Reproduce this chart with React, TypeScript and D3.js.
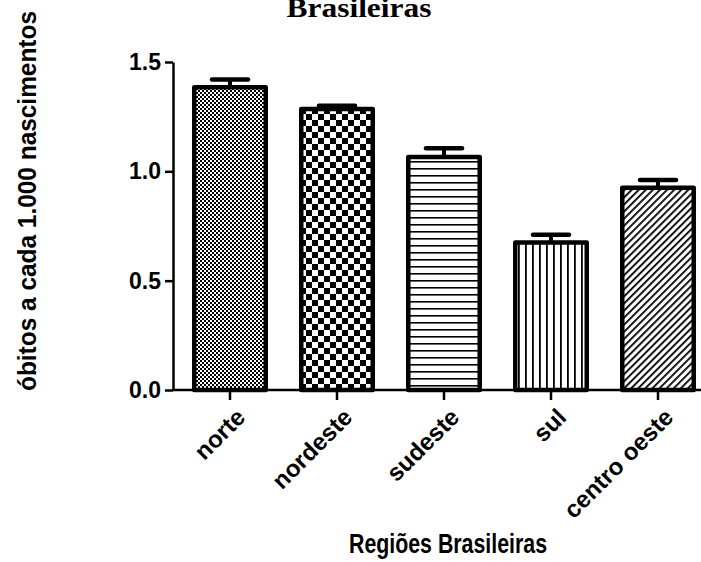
import React, { useEffect, useRef } from 'react';
import * as d3 from 'd3';

const regions = ['norte', 'nordeste', 'sudeste', 'sul', 'centro oeste'];
const rates = [1.385, 1.285, 1.065, 0.675, 0.925];
const errors = [0.035, 0.015, 0.04, 0.035, 0.035];
const patterns = ['fineCheck', 'bigCheck', 'hLines', 'vLines', 'diag'];
const yTicks = [0, 0.5, 1.0, 1.5];

const font = 'Liberation Sans, Arial, sans-serif';

const App = () => {
  const node = useRef<SVGSVGElement | null>(null);

  useEffect(() => {
    const svg = d3.select(node.current);
    svg.selectAll('*').remove();

    const width = 701, height = 562;
    svg.attr('width', width).attr('height', height);

    // fill patterns
    const defs = svg.append('defs');
    const fine = defs.append('pattern').attr('id', 'fineCheck')
      .attr('patternUnits', 'userSpaceOnUse').attr('width', 4).attr('height', 4);
    fine.append('rect').attr('width', 4).attr('height', 4).attr('fill', '#fff');
    fine.append('rect').attr('width', 2).attr('height', 2).attr('fill', '#000');
    fine.append('rect').attr('x', 2).attr('y', 2).attr('width', 2).attr('height', 2).attr('fill', '#000');

    const big = defs.append('pattern').attr('id', 'bigCheck')
      .attr('patternUnits', 'userSpaceOnUse').attr('width', 12).attr('height', 12);
    big.append('rect').attr('width', 12).attr('height', 12).attr('fill', '#fff');
    big.append('rect').attr('width', 6).attr('height', 6).attr('fill', '#000');
    big.append('rect').attr('x', 6).attr('y', 6).attr('width', 6).attr('height', 6).attr('fill', '#000');

    const hl = defs.append('pattern').attr('id', 'hLines')
      .attr('patternUnits', 'userSpaceOnUse').attr('width', 7).attr('height', 7);
    hl.append('rect').attr('width', 7).attr('height', 7).attr('fill', '#fff');
    hl.append('rect').attr('y', 0).attr('width', 7).attr('height', 1.6).attr('fill', '#000');

    const vl = defs.append('pattern').attr('id', 'vLines')
      .attr('patternUnits', 'userSpaceOnUse').attr('width', 7).attr('height', 7);
    vl.append('rect').attr('width', 7).attr('height', 7).attr('fill', '#fff');
    vl.append('rect').attr('x', 0).attr('width', 1.8).attr('height', 7).attr('fill', '#000');

    const dg = defs.append('pattern').attr('id', 'diag')
      .attr('patternUnits', 'userSpaceOnUse').attr('width', 5).attr('height', 5)
      .attr('patternTransform', 'rotate(45)');
    dg.append('rect').attr('width', 5).attr('height', 5).attr('fill', '#fff');
    dg.append('rect').attr('x', 0).attr('width', 1.8).attr('height', 5).attr('fill', '#000');

    const x = d3.scaleBand<string>().domain(regions)
      .range([176.5, 711.5]).paddingInner(0.29).paddingOuter(0.145);
    const y = d3.scaleLinear().domain([0, 1.5]).range([390, 62]);

    // y axis
    const yAxis = svg.append('g')
      .attr('transform', 'translate(173,0)')
      .call(d3.axisLeft(y).tickValues(yTicks).tickFormat(d3.format('.1f')).tickSize(8).tickSizeOuter(0));
    yAxis.select('.domain').attr('stroke', '#000').attr('stroke-width', 2.5);
    yAxis.selectAll('.tick line').attr('stroke', '#000').attr('stroke-width', 2.5);
    yAxis.selectAll('.tick text')
      .attr('font-family', font)
      .attr('font-weight', 'bold').attr('font-size', 23).attr('fill', '#000')
      .attr('x', -12);

    // x axis line
    svg.append('line')
      .attr('x1', 172).attr('x2', 701).attr('y1', 390).attr('y2', 390)
      .attr('stroke', '#000').attr('stroke-width', 2.5);

    const bars = svg.selectAll('g.bar')
      .data(regions)
      .enter()
      .append('g')
      .attr('class', 'bar');

    bars.append('line')
      .attr('x1', d => x(d)! + x.bandwidth() / 2)
      .attr('x2', d => x(d)! + x.bandwidth() / 2)
      .attr('y1', 390).attr('y2', 400)
      .attr('stroke', '#000').attr('stroke-width', 2.5);

    // error bars
    bars.append('line')
      .attr('x1', d => x(d)! + x.bandwidth() / 2)
      .attr('x2', d => x(d)! + x.bandwidth() / 2)
      .attr('y1', (d, i) => y(rates[i]))
      .attr('y2', (d, i) => y(rates[i] + errors[i]))
      .attr('stroke', '#000').attr('stroke-width', 4);
    bars.append('line')
      .attr('x1', d => x(d)! + x.bandwidth() / 2 - 18)
      .attr('x2', d => x(d)! + x.bandwidth() / 2 + 18)
      .attr('y1', (d, i) => y(rates[i] + errors[i]))
      .attr('y2', (d, i) => y(rates[i] + errors[i]))
      .attr('stroke', '#000').attr('stroke-width', 4.5).attr('stroke-linecap', 'round');

    bars.append('rect')
      .attr('x', d => x(d)! + 2.25)
      .attr('y', (d, i) => y(rates[i]))
      .attr('width', x.bandwidth() - 4.5)
      .attr('height', (d, i) => 390 - y(rates[i]))
      .attr('fill', (d, i) => 'url(#' + patterns[i] + ')')
      .attr('stroke', '#000').attr('stroke-width', 4.5)
      .attr('stroke-linejoin', 'round');

    // category labels
    bars.append('text')
      .text(d => d)
      .attr('transform', d => 'translate(' + (x(d)! + x.bandwidth() / 2 + 4) + ',406) rotate(-45)')
      .attr('text-anchor', 'end')
      .attr('dy', '0.75em')
      .attr('font-family', font)
      .attr('font-weight', 'bold').attr('font-size', 24).attr('fill', '#000');

    svg.append('text')
      .text('Regiões Brasileiras')
      .attr('x', 448).attr('y', 553)
      .attr('text-anchor', 'middle')
      .attr('textLength', 198).attr('lengthAdjust', 'spacingAndGlyphs')
      .attr('font-family', font)
      .attr('font-weight', 'bold').attr('font-size', 27).attr('fill', '#000');

    svg.append('text')
      .text('óbitos a cada 1.000 nascimentos')
      .attr('transform', 'translate(36,201) rotate(-90)')
      .attr('text-anchor', 'middle')
      .attr('textLength', 380).attr('lengthAdjust', 'spacingAndGlyphs')
      .attr('font-family', font)
      .attr('font-weight', 'bold').attr('font-size', 26).attr('fill', '#000');

    svg.append('text')
      .text('Brasileiras')
      .attr('x', 359).attr('y', 17)
      .attr('text-anchor', 'middle')
      .attr('textLength', 145).attr('lengthAdjust', 'spacingAndGlyphs')
      .attr('font-family', 'Liberation Serif, Times New Roman, serif')
      .attr('font-weight', 'bold').attr('font-size', 27).attr('fill', '#000');
  }, []);

  return <svg ref={node} width={701} height={562}
              style={{ position: 'absolute', left: 0, top: 0 }} />;
};

export default App;
